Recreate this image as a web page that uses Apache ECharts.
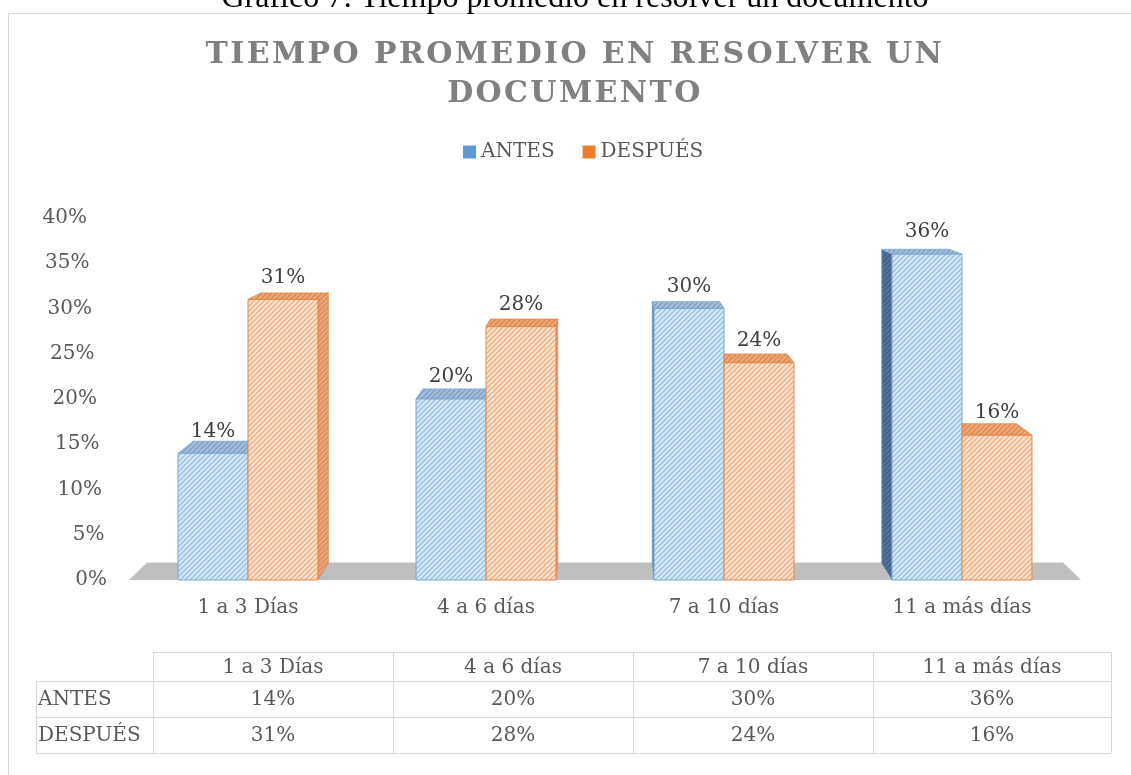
<!DOCTYPE html>
<html>
<head>
<meta charset="utf-8">
<script src="https://cdn.jsdelivr.net/npm/echarts@6/dist/echarts.min.js"></script>
<style>
  html, body { margin: 0; padding: 0; background: #ffffff; }
  #wrap { position: relative; width: 1131px; height: 775px; overflow: hidden; }
  #chart { position: absolute; left: 0; top: 0; width: 1131px; height: 775px; }
  #title {
    position: absolute; left: 0; top: 33px; width: 1150px; text-align: center;
    font-family: 'DejaVu Serif', serif; font-weight: bold; font-size: 30px;
    letter-spacing: 2.4px; line-height: 39px; color: #808080; pointer-events: none;
  }
</style>
</head>
<body>
<div id="wrap">
  <div id="chart"></div>
  <div id="title">TIEMPO PROMEDIO EN RESOLVER UN<br>DOCUMENTO</div>
</div>
<script>
// ---- data ----
const categories = ['1 a 3 Días', '4 a 6 días', '7 a 10 días', '11 a más días'];
const seriesNames = ['ANTES', 'DESPUÉS'];
const antes = [14, 20, 30, 36];
const despues = [31, 28, 24, 16];
const yTicks = [0, 5, 10, 15, 20, 25, 30, 35, 40];
const caption = 'Gráfico 7: Tiempo promedio en resolver un documento';

// ---- styling helpers ----
const FONT = 'DejaVu Serif';
const TXT = '#595959';

function makePattern(bg, stripe) {
  const T = 5;
  const c = document.createElement('canvas');
  c.width = T; c.height = T;
  const ctx = c.getContext('2d');
  ctx.fillStyle = bg; ctx.fillRect(0, 0, T, T);
  ctx.strokeStyle = stripe; ctx.lineWidth = 1.3;
  ctx.beginPath();
  for (let k = 0; k <= 2 * T; k += T) {
    ctx.moveTo(k + 1, -1); ctx.lineTo(-1, k + 1);
  }
  ctx.stroke();
  return { image: c, repeat: 'repeat' };
}

const palette = [
  { // ANTES
    front: makePattern('#D7E8F7', '#98BFE4'),
    top: makePattern('#A3BFDC', '#7E9FC5'),
    side: makePattern('#52749A', '#3D5E82'),
    border: '#7BA7D4'
  },
  { // DESPUÉS
    front: makePattern('#FCE2CF', '#F3AE80'),
    top: makePattern('#F0A878', '#D9874F'),
    side: makePattern('#EAA67B', '#D88B5B'),
    border: '#E3884B'
  }
];

const T_DEPTH = 0.036;

function renderBar(params, api) {
  const s = params.seriesIndex;
  const cs = params.coordSys;
  const cat = api.value(0), val = api.value(1);
  const topPt = api.coord([cat, val]);
  const basePt = api.coord([cat, 0]);
  const band = api.size([1, 0])[0];
  const bw = band * 0.294;
  const x0 = s === 0 ? topPt[0] - bw : topPt[0];
  const x1 = x0 + bw;
  const yT = topPt[1], yB = basePt[1];
  const vpx = cs.x + cs.width * 0.5;
  const vpy = cs.y - 100;
  const back = (p) => [p[0] + (vpx - p[0]) * T_DEPTH, p[1] + (vpy - p[1]) * T_DEPTH];
  const pal = palette[s];
  const children = [];

  if (s === 0 && vpx < x0) {
    children.push({ type: 'polygon', shape: { points: [[x0, yT], back([x0, yT]), back([x0, yB]), [x0, yB]] },
      style: { fill: pal.side, stroke: pal.border, lineWidth: 0.8 } });
  }
  if (s === 1 && vpx > x1) {
    children.push({ type: 'polygon', shape: { points: [[x1, yT], back([x1, yT]), back([x1, yB]), [x1, yB]] },
      style: { fill: pal.side, stroke: pal.border, lineWidth: 0.8 } });
  }
  let bL = back([x0, yT]), bR = back([x1, yT]);
  if (s === 0) { bL[0] = Math.min(bL[0], x1); bR[0] = Math.min(bR[0], x1); }
  else { bL[0] = Math.max(bL[0], x0); bR[0] = Math.max(bR[0], x0); }
  children.push({ type: 'polygon', shape: { points: [[x0, yT], [x1, yT], bR, bL] },
    style: { fill: pal.top, stroke: pal.border, lineWidth: 0.8 } });
  children.push({ type: 'rect', shape: { x: x0, y: yT, width: bw, height: yB - yT },
    style: { fill: pal.front, stroke: pal.border, lineWidth: 1 } });
  children.push({ type: 'text', z2: 100, style: {
    text: val + '%', x: (x0 + x1) / 2, y: yT - 12, align: 'center', verticalAlign: 'bottom',
    fill: '#404040', fontSize: 20, fontFamily: FONT } });
  return { type: 'group', children };
}

function renderFloor(params, api) {
  const cs = params.coordSys;
  const x0 = cs.x, x1 = cs.x + cs.width, y = cs.y + cs.height;
  const vpx = cs.x + cs.width * 0.5, vpy = cs.y - 100;
  const back = (p) => [p[0] + (vpx - p[0]) * T_DEPTH * 1.05, p[1] + (vpy - p[1]) * T_DEPTH * 1.05];
  return { type: 'polygon', shape: { points: [[x0, y], [x1, y], back([x1, y]), back([x0, y])] },
    style: { fill: '#BFBFBF' } };
}

// y labels: slanted 3D axis -> labels shift slightly left as value grows
const yRich = {};
yTicks.forEach(v => {
  yRich['p' + v] = { padding: [0, v / 2, 0, 0], fontSize: 20, color: TXT, fontFamily: FONT };
});

// ---- data table (graphic) ----
const tblCols = [153, 393, 633, 873, 1111];
const tblRows = [652, 681, 717, 753];
const tblLabelX = 36;
const tableRows = [antes, despues];
const lineColor = '#D9D9D9';
const graphic = [];
graphic.push({ type: 'rect', shape: { x: 8.5, y: 13.5, width: 1200, height: 800 },
  style: { fill: null, stroke: lineColor, lineWidth: 1 }, silent: true });
graphic.push({ type: 'text', style: { text: caption, x: 575, y: -1, align: 'center', verticalAlign: 'middle',
  fill: '#000', fontSize: 32, fontFamily: 'Liberation Serif' } });
graphic.push({ type: 'line', shape: { x1: tblCols[0], y1: tblRows[0] + 0.5, x2: tblCols[4], y2: tblRows[0] + 0.5 }, style: { stroke: lineColor, lineWidth: 1 } });
for (let r = 1; r < tblRows.length; r++) {
  graphic.push({ type: 'line', shape: { x1: tblLabelX, y1: tblRows[r] + 0.5, x2: tblCols[4], y2: tblRows[r] + 0.5 }, style: { stroke: lineColor, lineWidth: 1 } });
}
graphic.push({ type: 'line', shape: { x1: tblLabelX + 0.5, y1: tblRows[1], x2: tblLabelX + 0.5, y2: tblRows[3] }, style: { stroke: lineColor, lineWidth: 1 } });
tblCols.forEach(x => {
  graphic.push({ type: 'line', shape: { x1: x + 0.5, y1: tblRows[0], x2: x + 0.5, y2: tblRows[3] }, style: { stroke: lineColor, lineWidth: 1 } });
});
categories.forEach((c, i) => {
  graphic.push({ type: 'text', style: { text: c, x: (tblCols[i] + tblCols[i + 1]) / 2, y: (tblRows[0] + tblRows[1]) / 2 + 1,
    align: 'center', verticalAlign: 'middle', fill: TXT, fontSize: 20, fontFamily: FONT } });
});
tableRows.forEach((row, r) => {
  const yc = (tblRows[r + 1] + tblRows[r + 2]) / 2 + 1;
  graphic.push({ type: 'text', style: { text: seriesNames[r], x: tblLabelX + 2, y: yc, align: 'left', verticalAlign: 'middle',
    fill: TXT, fontSize: 20, fontFamily: FONT } });
  row.forEach((v, i) => {
    graphic.push({ type: 'text', style: { text: v + '%', x: (tblCols[i] + tblCols[i + 1]) / 2, y: yc,
      align: 'center', verticalAlign: 'middle', fill: TXT, fontSize: 20, fontFamily: FONT } });
  });
});

const chart = echarts.init(document.getElementById('chart'), null, { renderer: 'canvas' });
chart.setOption({
  animation: false,
  backgroundColor: '#ffffff',
  textStyle: { fontFamily: FONT },
  legend: {
    data: seriesNames, top: 137, left: 458, icon: 'rect', itemWidth: 13, itemHeight: 13, itemGap: 28,
    textStyle: { fontSize: 20, color: TXT, fontFamily: FONT }
  },
  grid: { left: 129, right: 50, top: 218, bottom: 195, containLabel: false },
  xAxis: {
    type: 'category', data: categories,
    axisLine: { show: false }, axisTick: { show: false },
    axisLabel: { fontSize: 20, color: TXT, fontFamily: FONT, margin: 18 }
  },
  yAxis: {
    type: 'value', min: yTicks[0], max: yTicks[yTicks.length - 1], interval: yTicks[1] - yTicks[0],
    axisLine: { show: false }, axisTick: { show: false }, splitLine: { show: false },
    axisLabel: { formatter: (v) => '{p' + v + '|' + v + '%}', rich: yRich, fontSize: 20, color: TXT, fontFamily: FONT, margin: 22 }
  },
  graphic: graphic,
  series: [
    { name: seriesNames[0], type: 'custom', renderItem: renderBar, z: 3,
      itemStyle: { color: '#5B9BD5' }, data: antes.map((v, i) => [i, v]), encode: { x: 0, y: 1 } },
    { name: seriesNames[1], type: 'custom', renderItem: renderBar, z: 3,
      itemStyle: { color: '#ED7D31' }, data: despues.map((v, i) => [i, v]), encode: { x: 0, y: 1 } },
    { name: 'floor', type: 'custom', renderItem: renderFloor, z: 1, silent: true,
      data: [[0, 0]], encode: { x: 0, y: 1 } }
  ]
});
</script>
</body>
</html>
